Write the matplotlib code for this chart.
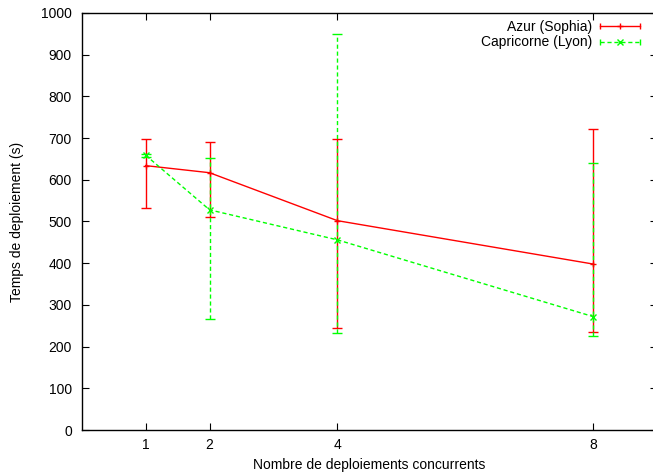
import matplotlib
matplotlib.use("Agg")
import matplotlib.pyplot as plt
from matplotlib.lines import Line2D
from matplotlib.legend_handler import HandlerLine2D, HandlerTuple

plt.rcParams['font.family'] = ['Liberation Sans', 'DejaVu Sans']
plt.rcParams['font.size'] = 10

x = [1, 2, 4, 8]
azur_mean = [634, 617, 502, 398]
azur_min = [533, 511, 244, 234]
azur_max = [699, 690, 699, 723]
capri_mean = [659, 528, 456, 272]
capri_min = [655, 265, 233, 225]
capri_max = [663, 653, 949, 641]
labels = ["Azur (Sophia)", "Capricorne (Lyon)"]
xticks = [1, 2, 4, 8]
yticks = list(range(0, 1001, 100))

RED = "#ff0000"
GREEN = "#00ff00"
DASH = (0, (3, 2))

fig = plt.figure(figsize=(6.53, 4.73), dpi=100)
W, H = 653, 473
left, right, bottom, top = 81.7, 657, 430, 13
ax = fig.add_axes([left / W, 1 - bottom / H, (right - left) / W, (bottom - top) / H])

def draw(mean, lo, hi, color, ls, marker):
    yerr = [[m - l for m, l in zip(mean, lo)], [h - m for m, h in zip(mean, hi)]]
    eb = ax.errorbar(x, mean, yerr=yerr, color=color, ls=ls, lw=1, marker=marker,
                     ms=4.5, mew=1, capsize=3.5, capthick=1, elinewidth=1, zorder=3)
    for c in eb[2]:
        c.set_linestyle(ls)
    return eb

draw(azur_mean, azur_min, azur_max, RED, '-', '+')
draw(capri_mean, capri_min, capri_max, GREEN, DASH, 'x')

ax.set_xlim(0, 9)
ax.set_ylim(0, 1000)
ax.set_xticks(xticks)
ax.set_yticks(yticks)
ax.tick_params(direction='in', top=True, right=True, length=5, width=0.8, labelsize=10)
ax.tick_params(axis='x', pad=6)
ax.tick_params(axis='y', pad=7)
for s in ax.spines.values():
    s.set_linewidth(1)
ax.set_xlabel("Nombre de deploiements concurrents", fontsize=10, labelpad=4)
ax.set_ylabel("Temps de deploiement (s)", fontsize=10, labelpad=12)

# legend handles
handles = []
hmap = {}
for color, ls, marker in [(RED, '-', '+'), (GREEN, DASH, 'x')]:
    ends = Line2D([], [], color=color, ls=ls, lw=1, marker='|', ms=5, mew=1)
    center = Line2D([], [], color=color, ls='none', marker=marker, ms=4.5, mew=1)
    hmap[ends] = HandlerLine2D(numpoints=2, marker_pad=0)
    hmap[center] = HandlerLine2D(numpoints=1)
    handles.append((ends, center))
hmap[tuple] = HandlerTuple(ndivide=1, pad=0)
leg = ax.legend(handles, labels, handler_map=hmap, loc='upper right', markerfirst=False,
                frameon=False, handlelength=2.95, handletextpad=0.55, labelspacing=0.1,
                borderaxespad=0.0, borderpad=0.0, fontsize=10)
leg.set_bbox_to_anchor(((640.5 - left) / (right - left), (bottom - 20) / (bottom - top)),
                       transform=ax.transAxes)

fig.savefig("out.png", dpi=100)
